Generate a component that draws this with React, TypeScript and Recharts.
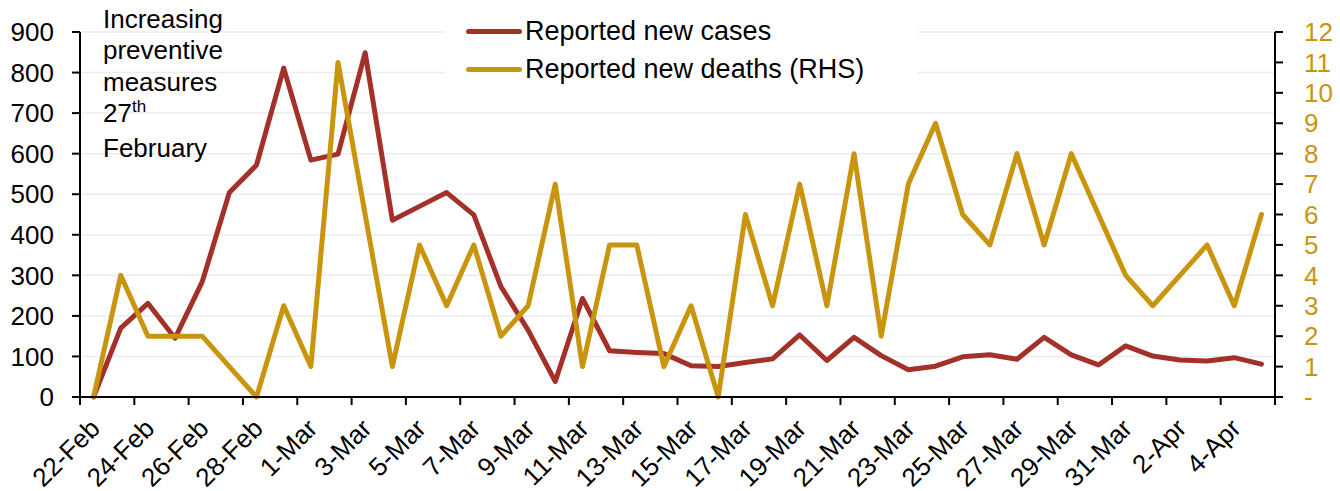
import { LineChart, Line, XAxis, YAxis, CartesianGrid, Legend } from "recharts";

const dates = [
  "22-Feb", "23-Feb", "24-Feb", "25-Feb", "26-Feb", "27-Feb", "28-Feb", "29-Feb",
  "1-Mar", "2-Mar", "3-Mar", "4-Mar", "5-Mar", "6-Mar", "7-Mar", "8-Mar", "9-Mar", "10-Mar",
  "11-Mar", "12-Mar", "13-Mar", "14-Mar", "15-Mar", "16-Mar", "17-Mar", "18-Mar", "19-Mar",
  "20-Mar", "21-Mar", "22-Mar", "23-Mar", "24-Mar", "25-Mar", "26-Mar", "27-Mar", "28-Mar",
  "29-Mar", "30-Mar", "31-Mar", "1-Apr", "2-Apr", "3-Apr", "4-Apr", "5-Apr",
];

const newCases = [
  0, 170, 231, 145, 284, 504, 572, 811, 584, 599, 849, 436, 470, 504, 449, 272, 165, 38, 243, 114,
  110, 107, 77, 75, 85, 94, 153, 90, 147, 102, 67, 76, 99, 104, 93, 147, 104, 79, 126, 101,
  91, 89, 97, 81,
];

const newDeaths = [
  0, 4, 2, 2, 2, 1, 0, 3, 1, 11, 6, 1, 5, 3, 5, 2, 3, 7, 1, 5,
  5, 1, 3, 0, 6, 3, 7, 3, 8, 2, 7, 9, 6, 5, 8, 5, 8, 6, 4, 3,
  4, 5, 3, 6,
];

const leftTicks = [0, 100, 200, 300, 400, 500, 600, 700, 800, 900];
const rightTicks = [0, 1, 2, 3, 4, 5, 6, 7, 8, 9, 10, 11, 12];

const CASES_NAME = "Reported new cases";
const DEATHS_NAME = "Reported new deaths (RHS)";
const RED = "#a3312a";
const GOLD = "#c9950f";
const FONT = "'Liberation Sans', Arial, sans-serif";

const W = 1340;
const H = 491;
const LEFT_W = 80;
const RIGHT_W = 65;
const BAND = (W - LEFT_W - RIGHT_W) / dates.length;

const data = dates.map((d, i) => ({ date: d, cases: newCases[i], deaths: newDeaths[i] }));

function DateTick(props: any) {
  const { x, y, payload } = props;
  const half = BAND / 2;
  const isLast = payload.value === dates[dates.length - 2];
  return (
    <g>
      <line x1={x - half} x2={x - half} y1={y - 8} y2={y} stroke="#000" strokeWidth={2} />
      {isLast && (
        <line x1={x + 3 * half} x2={x + 3 * half} y1={y - 8} y2={y} stroke="#000" strokeWidth={2} />
      )}
      <text
        transform={`translate(${x + 8},${y + 25}) rotate(-45)`}
        textAnchor="end"
        fontSize={26}
        fontFamily={FONT}
        fill="#000"
      >
        {payload.value}
      </text>
    </g>
  );
}

// legend box sits over the top gridlines, like the reference
function LegendBox() {
  const rows = [
    { name: CASES_NAME, color: RED, top: 15 },
    { name: DEATHS_NAME, color: GOLD, top: 53 },
  ];
  return (
    <div style={{ position: "relative", width: 472, height: 92, background: "#fff" }}>
      {rows.map((r) => (
        <div
          key={r.name}
          style={{
            position: "absolute",
            left: 21,
            top: r.top,
            height: 32,
            display: "flex",
            alignItems: "center",
            whiteSpace: "nowrap",
            fontFamily: FONT,
            fontSize: 27,
            color: "#000",
          }}
        >
          <span style={{ display: "inline-block", width: 56, height: 5, borderRadius: 3, background: r.color }} />
          <span style={{ marginLeft: 3 }}>{r.name}</span>
        </div>
      ))}
    </div>
  );
}

export default function App() {
  return (
    <div style={{ position: "absolute", left: 0, top: 0, width: W, height: H, background: "#fff" }}>
      <LineChart width={W} height={H} data={data} margin={{ top: 32, right: 0, left: 0, bottom: 0 }}>
        <CartesianGrid yAxisId="left" vertical={false} stroke="#ececec" strokeWidth={1.5} />
        <XAxis
          dataKey="date"
          interval={1}
          height={94}
          padding={{ left: BAND / 2, right: BAND / 2 }}
          tickSize={8}
          tickMargin={0}
          tickLine={false}
          axisLine={{ stroke: "#000", strokeWidth: 2 }}
          tick={<DateTick />}
        />
        <YAxis
          yAxisId="left"
          width={LEFT_W}
          domain={[0, 900]}
          ticks={leftTicks}
          interval={0}
          tickSize={8}
          tickMargin={18}
          axisLine={{ stroke: "#000", strokeWidth: 2 }}
          tickLine={{ stroke: "#000", strokeWidth: 2 }}
          tick={{ fontSize: 26, fill: "#000", fontFamily: FONT }}
        />
        <YAxis
          yAxisId="right"
          orientation="right"
          width={RIGHT_W}
          domain={[0, 12]}
          ticks={rightTicks}
          interval={0}
          tickSize={8}
          tickMargin={21}
          tickFormatter={(v: number) => (v === 0 ? "-" : String(v))}
          axisLine={{ stroke: "#000", strokeWidth: 2 }}
          tickLine={{ stroke: "#000", strokeWidth: 2 }}
          tick={{ fontSize: 26, fill: GOLD, fontFamily: FONT, textAnchor: "start" }}
        />
        <Legend
          layout="vertical"
          align="center"
          verticalAlign="top"
          content={() => <LegendBox />}
          wrapperStyle={{ position: "absolute", left: 445, top: 0, width: 0, height: 0, overflow: "visible" }}
        />
        <Line
          yAxisId="left"
          type="linear"
          dataKey="cases"
          name={CASES_NAME}
          stroke={RED}
          strokeWidth={5}
          strokeLinejoin="round"
          strokeLinecap="round"
          dot={false}
          activeDot={false}
          isAnimationActive={false}
        />
        <Line
          yAxisId="right"
          type="linear"
          dataKey="deaths"
          name={DEATHS_NAME}
          stroke={GOLD}
          strokeWidth={5}
          strokeLinejoin="round"
          strokeLinecap="round"
          dot={false}
          activeDot={false}
          isAnimationActive={false}
        />
      </LineChart>
      <div
        style={{
          position: "absolute",
          left: 103,
          top: 3.5,
          fontFamily: FONT,
          fontSize: 26,
          lineHeight: "31.6px",
          color: "#000",
          whiteSpace: "nowrap",
        }}
      >
        <div>Increasing</div>
        <div>preventive</div>
        <div>measures</div>
        <div>
          27<span style={{ fontSize: 17, position: "relative", top: -10 }}>th</span>
        </div>
        <div>February</div>
      </div>
    </div>
  );
}
